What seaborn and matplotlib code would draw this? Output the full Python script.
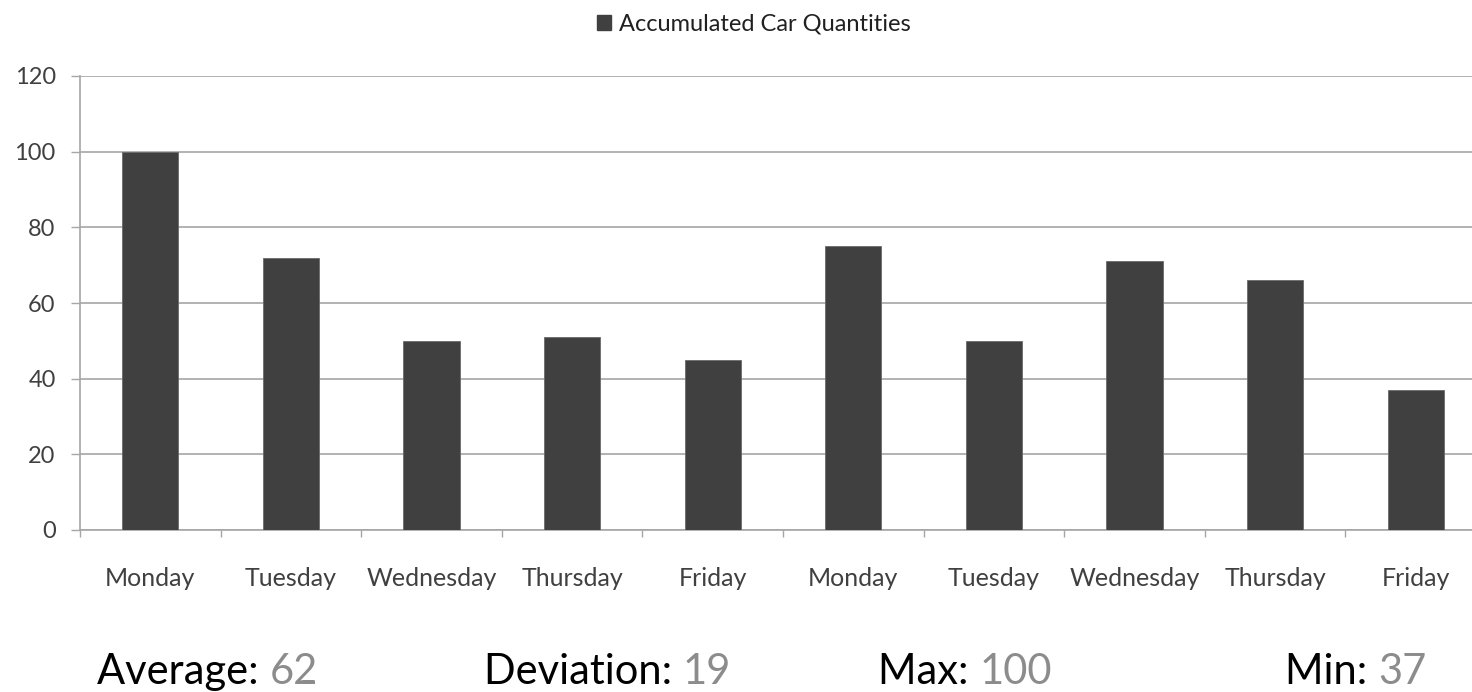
import numpy as np
import pandas as pd
import matplotlib
matplotlib.use("Agg")
import matplotlib.pyplot as plt
from matplotlib.patches import Rectangle
import seaborn as sns

# Daily counts over two working weeks
days = ["Monday", "Tuesday", "Wednesday", "Thursday", "Friday",
        "Monday", "Tuesday", "Wednesday", "Thursday", "Friday"]
cars = [100, 72, 50, 51, 45, 75, 50, 71, 66, 37]
y_ticks = [0, 20, 40, 60, 80, 100, 120]
series_name = "Accumulated Car Quantities"

BAR = "#404040"
GRID = "#a6a6a6"
TXT = "#404040"
FONT = ["Lato", "DejaVu Sans"]

sns.set_theme(style="white")
plt.rcParams["font.family"] = FONT

df = pd.DataFrame({"slot": np.arange(len(days)), "day": days, "cars": cars})

W, H, DPI = 1472, 692, 100
fig = plt.figure(figsize=(W / DPI, H / DPI), dpi=DPI)
fig.patch.set_facecolor("white")
# plot area: left 80px, bottom at 530px, top at 76px, runs past the right edge
ax = fig.add_axes([80 / W, (H - 530) / H, 1406 / W, 454 / H])

sns.barplot(data=df, x="slot", y="cars", color=BAR, saturation=1,
            width=0.4, edgecolor="#6a6a6a", linewidth=0.6, ax=ax,
            zorder=3)

ax.set_xlim(-0.5, len(days) - 0.5)
ax.set_ylim(0, 120)
ax.set_yticks(y_ticks)
ax.set_yticklabels([str(v) for v in y_ticks])
ax.set_xticks(range(len(days)))
ax.set_xticklabels(days)
ax.set_xticks(np.arange(-0.5, len(days), 1.0), minor=True)
ax.set_xlabel("")
ax.set_ylabel("")

for s in ["top", "right"]:
    ax.spines[s].set_visible(False)
for s in ["left", "bottom"]:
    ax.spines[s].set_color(GRID)
    ax.spines[s].set_linewidth(1.2)
ax.yaxis.grid(True, color=GRID, linewidth=1.2, zorder=0)
ax.xaxis.grid(False)
ax.set_axisbelow(True)

ax.tick_params(axis="y", which="major", direction="out", length=6.5,
               width=1.0, color=GRID, pad=11, labelsize=17,
               labelcolor=TXT, left=True)
ax.tick_params(axis="x", which="major", length=0, pad=27,
               labelsize=18, labelcolor=TXT)
ax.tick_params(axis="x", which="minor", direction="out", length=5,
               width=1.0, color=GRID, bottom=True)

# legend entry above the plot
handle = Rectangle((0, 0), 1, 1, facecolor=BAR, edgecolor=BAR)
fig.legend([handle], [series_name], loc="center",
           bbox_to_anchor=(754 / W, 1 - 24 / H), frameon=False,
           fontsize=17, handlelength=0.6, handleheight=0.6,
           handletextpad=0.35, labelcolor="#202020")

# summary statistics drawn from the same values
vals = np.array(cars, dtype=float)
stats = [("Average: ", f"{vals.mean():.0f}", 97),
         ("Deviation: ", f"{vals.std(ddof=1):.0f}", 484),
         ("Max: ", f"{vals.max():.0f}", 878),
         ("Min: ", f"{vals.min():.0f}", 1285)]
renderer = fig.canvas.get_renderer()
for label, value, x0 in stats:
    t = fig.text(x0 / W, 1 - 684 / H, label, fontsize=30,
                 color="black", ha="left", va="baseline")
    bb = t.get_window_extent(renderer=renderer)
    fig.text(bb.x1 / W, 1 - 684 / H, value, fontsize=30,
             color="#8c8c8c", ha="left", va="baseline")

fig.savefig("out.png", dpi=DPI, facecolor="white")
